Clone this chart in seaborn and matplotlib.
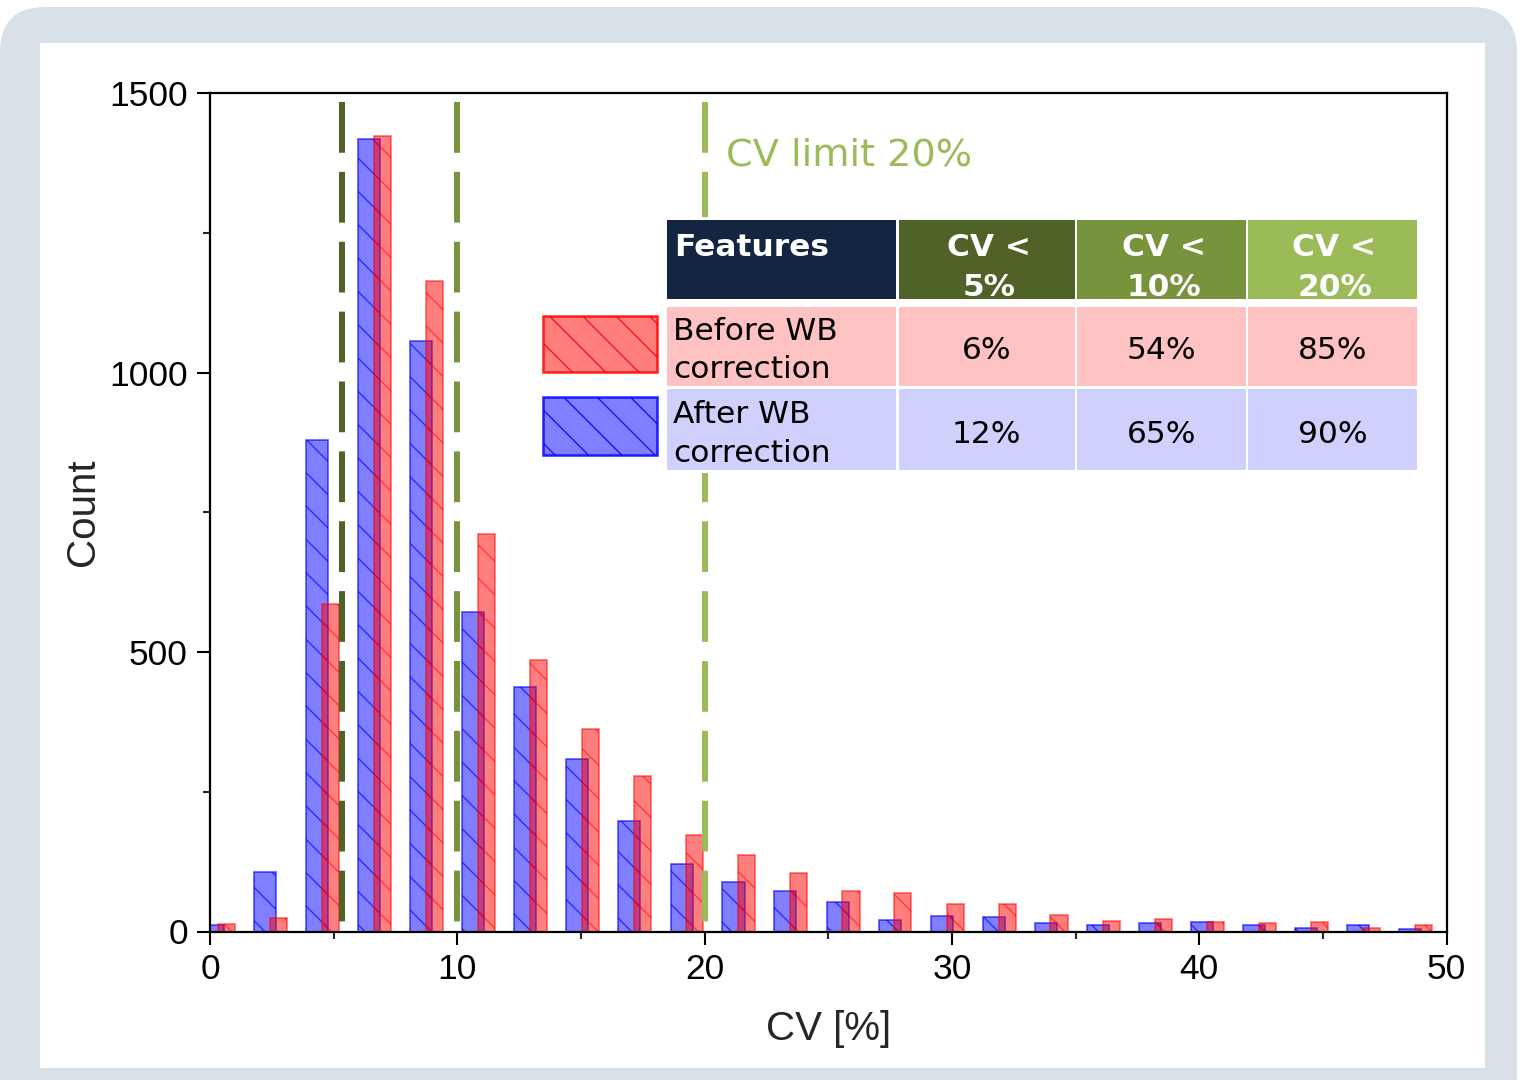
import numpy as np
import pandas as pd
import matplotlib
matplotlib.use("Agg")
import matplotlib.pyplot as plt
import seaborn as sns
from matplotlib.patches import Rectangle, FancyBboxPatch
from matplotlib.ticker import MultipleLocator

# ---------------- data ----------------
bin_left = [-0.32, 1.78, 3.89, 5.99, 8.10, 10.20, 12.30, 14.41, 16.51, 18.62,
            20.72, 22.82, 24.93, 27.03, 29.14, 31.24, 33.34, 35.45, 37.55,
            39.66, 41.76, 43.86, 45.97, 48.07]
after_counts = [12, 106, 880, 1417, 1056, 572, 438, 308, 197, 121, 89, 72, 52,
                20, 27, 26, 15, 12, 15, 17, 11, 6, 12, 4]
before_counts = [14, 25, 586, 1423, 1164, 711, 485, 362, 278, 173, 136, 104, 72,
                 69, 49, 49, 30, 18, 22, 17, 15, 17, 6, 12]
limit_x = [5.33, 10, 20]
limit_colors = ["#4f6228", "#77933c", "#9bbb59"]
x_ticks = [0, 10, 20, 30, 40, 50]
y_ticks = [0, 500, 1000, 1500]
header_labels = ["Features", "CV <\n5%", "CV <\n10%", "CV <\n20%"]
header_colors = ["#132540", "#4f6228", "#77933c", "#9bbb59"]
row_labels = ["Before WB\ncorrection", "After WB\ncorrection"]
row_colors = ["#ffc2c2", "#d0d0fc"]
before_pct = ["6%", "54%", "85%"]
after_pct = ["12%", "65%", "90%"]

# ---------------- style ----------------
sns.set_style("ticks")
plt.rcParams["font.family"] = ["Liberation Sans", "DejaVu Sans"]
plt.rcParams["hatch.linewidth"] = 1.0

W, H = 1521, 1080
fig = plt.figure(figsize=(W / 100, H / 100), dpi=100)
fig.patch.set_facecolor("white")

def px(x, y):
    return (x / 100.0, (H - y) / 100.0)

tr = fig.dpi_scale_trans

# frame background
bg = FancyBboxPatch(px(0, 1140), 15.17, (1140 - 7) / 100.0,
                    boxstyle="round,pad=0,rounding_size=0.45",
                    transform=tr, facecolor="#d9e1e8", edgecolor="none", zorder=-20)
fig.add_artist(bg)
fig.add_artist(Rectangle(px(40, 1068), (1485 - 40) / 100.0, (1068 - 43) / 100.0,
                         transform=tr, facecolor="white", edgecolor="none", zorder=-19))

ax_left, ax_right = 210 / W, 1446.7 / W
ax_bot, ax_top = (H - 931.5) / H, (H - 93) / H
ax = fig.add_axes([ax_left, ax_bot, ax_right - ax_left, ax_top - ax_bot])
ax.set_facecolor("none")

blue_w, red_w, red_off = 0.89, 0.69, 0.64
blue_centers = [b + blue_w / 2 for b in bin_left]
red_centers = [b + red_off + red_w / 2 for b in bin_left]
step = float(np.min(np.diff(blue_centers)))

df_after = pd.DataFrame({"cv": blue_centers, "count": after_counts})
df_before = pd.DataFrame({"cv": red_centers, "count": before_counts})

n0 = len(ax.patches)
sns.barplot(data=df_after, x="cv", y="count", native_scale=True, width=blue_w / step,
            color="blue", saturation=1, errorbar=None, ax=ax)
for p in ax.patches[n0:]:
    p.set_facecolor((0, 0, 1, 0.5))
    p.set_edgecolor((0, 0, 1, 0.65))
    p.set_linewidth(1.2)
    p.set_hatch("\\")
n1 = len(ax.patches)
sns.barplot(data=df_before, x="cv", y="count", native_scale=True, width=red_w / step,
            color="red", saturation=1, errorbar=None, ax=ax)
for p in ax.patches[n1:]:
    p.set_facecolor((1, 0, 0, 0.5))
    p.set_edgecolor((1, 0, 0, 0.55))
    p.set_linewidth(1.2)
    p.set_hatch("\\")

for xv, c in zip(limit_x, limit_colors):
    ax.plot([xv, xv], [1484, 8], color=c, lw=4.3, ls=(0, (8.5, 3.2)), zorder=5)

ax.text(20.87, 1371, "CV limit 20%", color="#9bbb59", fontsize=27.5,
        family="DejaVu Sans", va="baseline", ha="left")

ax.set_xlim(0, 50)
ax.set_ylim(0, 1500)
ax.set_xticks(x_ticks)
ax.set_yticks(y_ticks)
ax.xaxis.set_minor_locator(MultipleLocator(5))
ax.yaxis.set_minor_locator(MultipleLocator(250))
ax.tick_params(axis="both", which="major", direction="out", length=9.5, width=1.5,
               labelsize=25.5, color="black", labelcolor="black")
ax.tick_params(axis="both", which="minor", direction="out", length=5, width=1.5)
ax.tick_params(axis="x", which="major", pad=6)
ax.tick_params(axis="y", which="major", pad=6.5)
ax.tick_params(top=False, right=False, which="both")
for s in ax.spines.values():
    s.set_visible(True)
    s.set_linewidth(1.6)
    s.set_color("black")

ax.set_xlabel("CV [%]", fontsize=29)
ax.set_ylabel("Count", fontsize=29)
ax.xaxis.set_label_coords(0.5, -0.0940)
ax.yaxis.set_label_coords(-0.0873, 0.5)

# ---------------- table ----------------
col_x = [(667, 896), (898.5, 1075), (1077, 1246), (1248, 1417)]
row_y = [(220, 299), (306.5, 385.5), (388.5, 470)]

def rect(x0, y0, x1, y1, fc, z=10, **kw):
    fig.add_artist(Rectangle(px(x0, y1), (x1 - x0) / 100.0, (y1 - y0) / 100.0,
                             transform=tr, facecolor=fc, zorder=z, **kw))

rect(664, 217, 1420, 473, "white", z=9, edgecolor="none")
tfs = 22.5
for j, (lab, col) in enumerate(zip(header_labels, header_colors)):
    x0, x1 = col_x[j]
    y0, y1 = row_y[0]
    rect(x0, y0, x1, y1, col, edgecolor="none")
    lines = lab.split("\n")
    for i, ln in enumerate(lines):
        if j == 0:
            fig.text(*px(674, 256 + 39 * i), ln, transform=tr, color="white",
                     fontsize=tfs, weight="bold", family="DejaVu Sans",
                     ha="left", va="baseline", zorder=11)
        else:
            fig.text(*px((x0 + x1) / 2 + 2, 256 + 39.5 * i), ln, transform=tr, color="white",
                     fontsize=tfs, weight="bold", family="DejaVu Sans",
                     ha="center", va="baseline", zorder=11)

for r, (lab, rc, vals) in enumerate(zip(row_labels, row_colors, [before_pct, after_pct])):
    y0, y1 = row_y[r + 1]
    for j in range(4):
        x0, x1 = col_x[j]
        rect(x0, y0, x1, y1, rc, edgecolor="none")
    base = 340 if r == 0 else 423
    for i, ln in enumerate(lab.split("\n")):
        fig.text(*px(673, base + 38.5 * i), ln, transform=tr, color="black",
                 fontsize=tfs, family="DejaVu Sans", ha="left", va="baseline", zorder=11)
    nb = 359 if r == 0 else 443
    for j, v in enumerate(vals):
        x0, x1 = col_x[j + 1]
        fig.text(*px((x0 + x1) / 2, nb), v, transform=tr, color="black",
                 fontsize=tfs, family="DejaVu Sans", ha="center", va="baseline", zorder=11)

# legend swatches
rect(543, 316, 656.5, 372, (1, 0, 0, 0.5), z=10, edgecolor=(1, 0, 0, 0.85),
     linewidth=1.8, hatch="\\")
rect(543, 397, 656.5, 455, (0, 0, 1, 0.5), z=10, edgecolor=(0, 0, 1, 0.85),
     linewidth=1.8, hatch="\\")

fig.savefig("out.png", dpi=100, facecolor="white")
